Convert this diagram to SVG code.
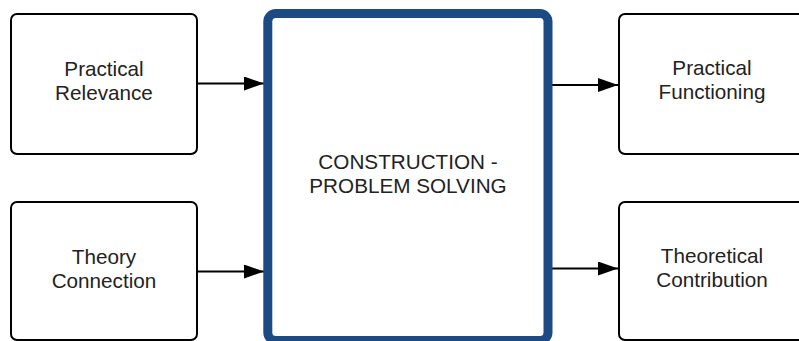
<svg xmlns="http://www.w3.org/2000/svg" width="799" height="341" viewBox="0 0 799 341">
<style>
.box{fill:#fff;stroke:#000;stroke-width:2}
.main{fill:#fff;stroke:#1c4a82;stroke-width:9}
.t{font-family:"Liberation Sans",Arial,sans-serif;font-size:20.7px;fill:#222;text-anchor:middle}
.c{stroke:#000;stroke-width:2;fill:none}
</style>
<defs>
<marker id="ah" markerWidth="10" markerHeight="7" refX="10" refY="3.5" orient="auto" markerUnits="strokeWidth"><path d="M0,0 L10,3.5 L0,7 Z" fill="#000"/></marker>
</defs>
<rect width="799" height="341" fill="#fff"/>
<g id="connectors">
<line class="c" x1="198" y1="83.5" x2="264" y2="83.5" marker-end="url(#ah)"/>
<line class="c" x1="198" y1="271.5" x2="264" y2="271.5" marker-end="url(#ah)"/>
<line class="c" x1="552" y1="85" x2="618" y2="85" marker-end="url(#ah)"/>
<line class="c" x1="552" y1="268.5" x2="618" y2="268.5" marker-end="url(#ah)"/>
</g>
<g id="practical-relevance">
<rect class="box" x="11" y="14" width="186" height="140" rx="6"/>
<text class="t" x="104" y="76">Practical</text>
<text class="t" x="104" y="100">Relevance</text>
</g>
<g id="theory-connection">
<rect class="box" x="11" y="202" width="186" height="138" rx="6"/>
<text class="t" x="104" y="264">Theory</text>
<text class="t" x="104" y="288">Connection</text>
</g>
<g id="construction">
<rect class="main" x="267.8" y="13.5" width="280.2" height="327" rx="8"/>
<text class="t" x="408" y="169">CONSTRUCTION -</text>
<text class="t" x="408" y="193">PROBLEM SOLVING</text>
</g>
<g id="practical-functioning">
<rect class="box" x="619" y="14" width="200" height="140" rx="6"/>
<text class="t" x="712" y="75">Practical</text>
<text class="t" x="712" y="99">Functioning</text>
</g>
<g id="theoretical-contribution">
<rect class="box" x="619" y="202" width="200" height="138" rx="6"/>
<text class="t" x="712" y="263">Theoretical</text>
<text class="t" x="712" y="287">Contribution</text>
</g>
</svg>
